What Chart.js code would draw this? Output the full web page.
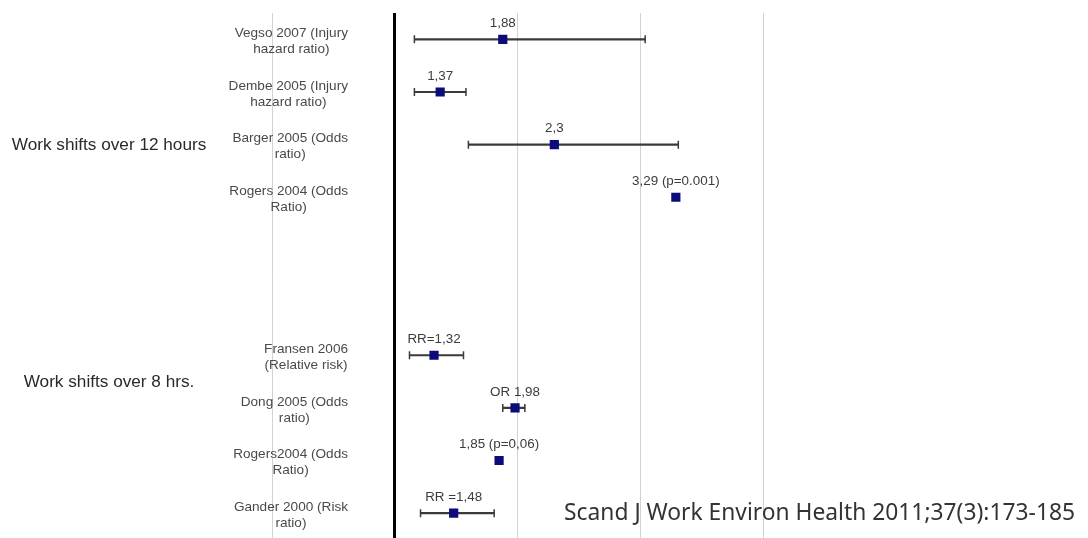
<!DOCTYPE html>
<html>
<head>
<meta charset="utf-8">
<script src="https://cdn.jsdelivr.net/npm/chart.js@4"></script>
<style>
  html, body { margin: 0; padding: 0; background: #fff; overflow: hidden; }
  #wrap { width: 1088px; height: 546px; }
</style>
</head>
<body>
<div id="wrap"><canvas id="forest" width="1088" height="546"></canvas></div>
<script>
// Study rows, top to bottom (null = spacer row between the two groups)
const studies = [
  ['Vegso 2007 (Injury', 'hazard ratio)'],
  ['Dembe 2005 (Injury', 'hazard ratio)'],
  ['Barger 2005 (Odds', 'ratio)'],
  ['Rogers 2004 (Odds', 'Ratio)'],
  null,
  null,
  ['Fransen 2006', '(Relative risk)'],
  ['Dong 2005 (Odds', 'ratio)'],
  ['Rogers2004 (Odds', 'Ratio)'],
  ['Gander 2000 (Risk', 'ratio)']
];
// Point estimates and confidence limits
const estimate = [1.88, 1.37, 2.3, 3.29, null, null, 1.32, 1.98, 1.85, 1.48];
const lower    = [1.16, 1.16, 1.60, null, null, null, 1.12, 1.88, null, 1.21];
const upper    = [3.04, 1.58, 3.31, null, null, null, 1.56, 2.06, null, 1.81];
// Text printed above each estimate
const estimateText = ['1,88', '1,37', '2,3', '3,29 (p=0.001)', null, null,
                      'RR=1,32', 'OR 1,98', '1,85 (p=0,06)', 'RR =1,48'];
// Group headings and the row position they sit at
const groupLabels = ['Work shifts over 12 hours', 'Work shifts over 8 hrs.'];
const groupRows = [2, 6.5];
// Vertical reference values
const axisMin = 0, axisMax = 4, nullValue = 1;
const sourceNote = 'Scand J Work Environ Health 2011;37(3):173-185';

const rowIdx = studies.map((s, i) => i);
const whiskers = rowIdx.filter(i => lower[i] != null)
  .map(i => ({ x: [lower[i], upper[i]], y: i }));
const caps = rowIdx.filter(i => lower[i] != null)
  .flatMap(i => [{ x: lower[i], y: i }, { x: upper[i], y: i }]);
const points = rowIdx.filter(i => estimate[i] != null)
  .map(i => ({ x: estimate[i], y: i }));

const SANS = '"Liberation Sans", Arial, sans-serif';

const textPlugin = {
  id: 'forestText',
  afterDraw(chart) {
    const { ctx, scales: { x, y } } = chart;
    ctx.save();
    ctx.textBaseline = 'middle';

    // study labels: block right-aligned, lines centred within the block
    ctx.font = '13.6px ' + SANS;
    ctx.fillStyle = '#4a4a4a';
    const right = 348, lh = 16;
    studies.forEach((lines, i) => {
      if (!lines) return;
      const w = Math.max(...lines.map(t => ctx.measureText(t).width));
      const cx = right - w / 2;
      const cy = y.getPixelForValue(i) + 2;
      ctx.textAlign = 'center';
      lines.forEach((t, k) => {
        ctx.fillText(t, cx, cy + (k - (lines.length - 1) / 2) * lh);
      });
    });

    // value labels above the markers
    ctx.font = '13.4px ' + SANS;
    ctx.fillStyle = '#3c3c3c';
    ctx.textAlign = 'center';
    estimateText.forEach((t, i) => {
      if (!t) return;
      ctx.fillText(t, x.getPixelForValue(estimate[i]), y.getPixelForValue(i) - 16);
    });

    // group headings
    ctx.font = '17.2px ' + SANS;
    ctx.fillStyle = '#2a2a2a';
    groupLabels.forEach((t, k) => {
      ctx.fillText(t, 109, y.getPixelForValue(groupRows[k]) + 1);
    });

    // source note
    ctx.font = '22.8px "Noto Sans", sans-serif';
    ctx.fillStyle = '#333';
    ctx.textAlign = 'right';
    ctx.fillText(sourceNote, 1075, 514);
    ctx.restore();
  }
};

new Chart(document.getElementById('forest'), {
  type: 'scatter',
  data: {
    datasets: [
      {
        type: 'bar',
        indexAxis: 'y',
        data: whiskers,
        backgroundColor: '#3a3a3a',
        borderWidth: 0,
        barThickness: 1.5,
        order: 3
      },
      {
        data: caps,
        pointStyle: 'line',
        rotation: 90,
        radius: 4,
        borderColor: '#3a3a3a',
        borderWidth: 1.5,
        order: 2
      },
      {
        data: points,
        pointStyle: 'rect',
        radius: 6.5,
        backgroundColor: '#0b0b7a',
        borderColor: '#0b0b7a',
        borderWidth: 0,
        order: 1
      }
    ]
  },
  options: {
    responsive: false,
    animation: false,
    devicePixelRatio: 1,
    layout: { padding: { left: 272, right: 325, top: 13, bottom: 0 } },
    plugins: { legend: { display: false }, tooltip: { enabled: false } },
    scales: {
      x: {
        type: 'linear',
        min: axisMin,
        max: axisMax,
        offset: false,
        border: { display: false },
        ticks: { display: false, stepSize: 1 },
        grid: {
          offset: false,
          drawTicks: false,
          color: c => c.tick && c.tick.value === nullValue ? '#000' : '#d2d2d2',
          lineWidth: c => c.tick && c.tick.value === nullValue ? 3 : 1
        }
      },
      y: {
        type: 'linear',
        display: false,
        reverse: true,
        offset: false,
        min: -0.5,
        max: studies.length - 0.5
      }
    }
  },
  plugins: [textPlugin]
});
</script>
</body>
</html>
